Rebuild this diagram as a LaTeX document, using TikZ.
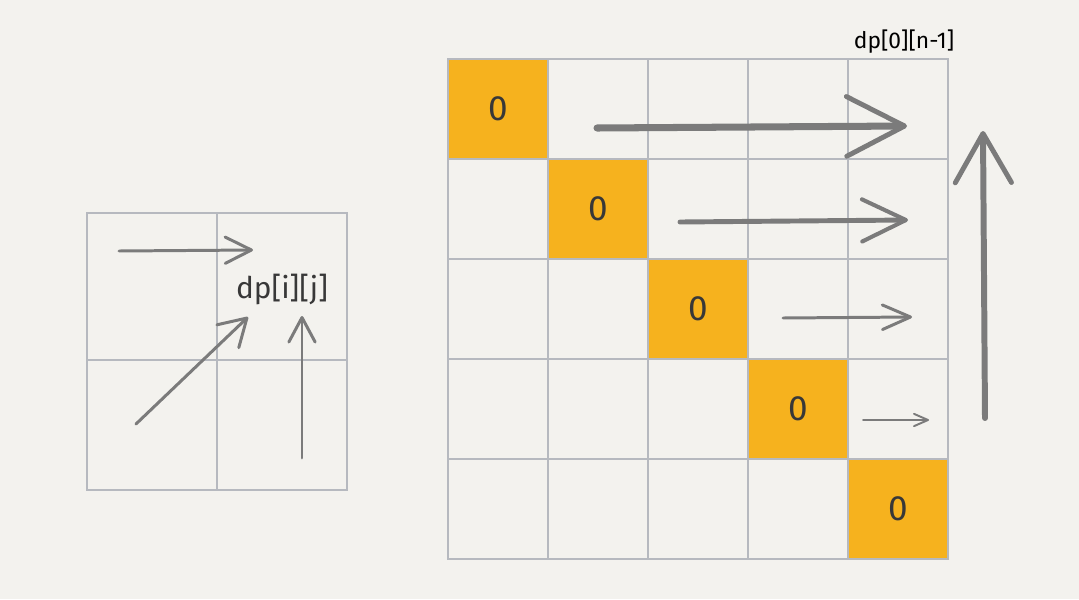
\documentclass[tikz,border=0pt]{standalone}
\usepackage{fontspec}
\setmainfont{Fira Sans}
\usetikzlibrary{arrows.meta}

\definecolor{bgpaper}{HTML}{F3F2EE}
\definecolor{gridline}{HTML}{B6B9BF}
\definecolor{zerofill}{HTML}{F6B21E}
\definecolor{pencil}{HTML}{7B7B7B}
\definecolor{inktext}{HTML}{383838}

\tikzset{
  cell/.style={draw=gridline,line width=1.2pt,minimum size=2cm,inner sep=0pt,
    text=inktext,font=\fontsize{20}{24}\selectfont},
  zerocell/.style={cell,fill=zerofill},
  pencilarrow/.style={draw=pencil,line cap=round},
}

\begin{document}
\begin{tikzpicture}[x=0.02cm,y=-0.02cm]
\fill[bgpaper] (0,0) rectangle (1079,599);

% small grid
\draw[gridline,line width=1.3pt] (87,213) rectangle (347,490);
\draw[gridline,line width=1.3pt] (217,213) -- (217,490);
\draw[gridline,line width=1.3pt] (87,360) -- (347,360);
\node[text=inktext,font=\fontsize{17}{20}\selectfont] (dpij) at (282,289) {dp[i][j]};

\coordinate (lefts) at (119,251);  \coordinate (lefte) at (253,250);
\coordinate (diags) at (136,424);  \coordinate (diage) at (248,317);
\coordinate (downs) at (302,458);  \coordinate (downe) at (302,316);
\draw[pencilarrow,line width=1.7pt,-{Straight Barb[length=15pt,width=15pt,round]}] (lefts) -- (lefte);
\draw[pencilarrow,line width=1.7pt,-{Straight Barb[length=15pt,width=18pt,round]}] (diags) -- (diage);
\draw[pencilarrow,line width=1.7pt,-{Straight Barb[length=14pt,width=15pt,round]}] (downs) -- (downe);

% big table
\foreach \r in {0,...,4}
  \foreach \c in {0,...,4}{
    \ifnum\r=\c
      \node[zerocell] (c-\r-\c) at (498+100*\c,109+100*\r) {0};
    \else
      \node[cell] (c-\r-\c) at (498+100*\c,109+100*\r) {};
    \fi
  }
\node[text=black,font=\fontsize{13}{16}\selectfont] (last) at (904,42) {dp[0][n-1]};

\coordinate (row0s) at (597,128);  \coordinate (row0e) at (907,126);
\coordinate (row1s) at (680,222);  \coordinate (row1e) at (908,220);
\coordinate (row2s) at (783,318);  \coordinate (row2e) at (912,317);
\coordinate (row3s) at (863,420);  \coordinate (row3e) at (929,420);
\coordinate (ups) at (985,418);    \coordinate (upe) at (983,131);
\draw[pencilarrow,line width=4pt,-{Straight Barb[length=33pt,width=34pt,line width=2.8pt,round]}] (row0s) -- (row0e);
\draw[pencilarrow,line width=2.8pt,-{Straight Barb[length=25pt,width=24pt,line width=2.3pt,round]}] (row1s) -- (row1e);
\draw[pencilarrow,line width=1.7pt,-{Straight Barb[length=16pt,width=14pt,round]}] (row2s) -- (row2e);
\draw[pencilarrow,line width=1.1pt,-{Straight Barb[length=8pt,width=7pt,round]}] (row3s) -- (row3e);
\draw[pencilarrow,line width=3.4pt,-{Straight Barb[length=28pt,width=32pt,line width=2.8pt,round]}] (ups) -- (upe);
\end{tikzpicture}
\end{document}
